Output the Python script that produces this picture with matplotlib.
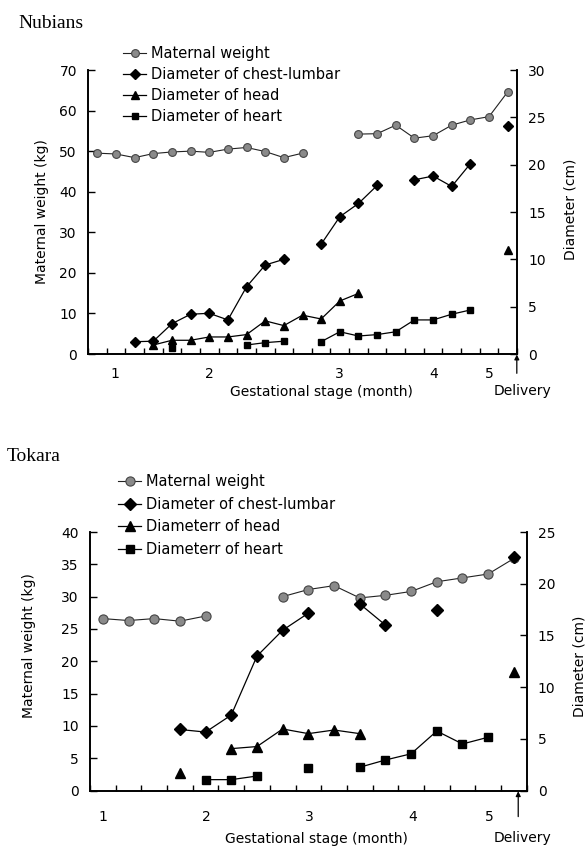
import numpy as np
import matplotlib
matplotlib.use("Agg")
import matplotlib.pyplot as plt

nan = np.nan

# Nubians (23 stage slots, weight in kg, diameters in cm)
nub_weight = [49.5, 49.3, 48.4, 49.4, 49.8, 50.0, 49.7, 50.5, 50.9, 49.9, 48.4, 49.5,
              nan, nan, 54.2, 54.3, 56.4, 53.2, 53.8, 56.4, 57.7, 58.5, 64.6]
nub_chest = [nan, nan, 1.3, 1.35, 3.2, 4.2, 4.3, 3.6, 7.1, 9.4, 10.0, nan,
             11.6, 14.5, 15.9, 17.8, nan, 18.4, 18.8, 17.7, 20.1, nan, 24.1]
nub_head = [nan, nan, nan, 0.95, 1.45, 1.45, 1.8, 1.8, 2.05, 3.5, 3.0, 4.1,
            3.7, 5.6, 6.4, nan, nan, nan, nan, nan, nan, nan, 11.0]
nub_heart = [nan, nan, nan, nan, 0.6, nan, nan, nan, 0.95, 1.2, 1.35, nan,
             1.3, 2.35, 1.9, 2.05, 2.35, 3.6, 3.6, 4.2, 4.65, nan, nan]
nub_month_pos = [0.95, 6.0, 13.0, 18.05, 21.0]

# Tokara (17 stage slots)
tok_weight = [26.6, 26.3, 26.6, 26.2, 27.0, nan, nan, 30.0, 31.1, 31.7, 29.8, 30.2,
              30.8, 32.3, 32.9, 33.5, 35.9]
tok_chest = [nan, nan, nan, 5.9, 5.65, 7.3, 13.0, 15.5, 17.15, nan, 18.05, 16.0,
             nan, 17.5, nan, nan, 22.6]
tok_head = [nan, nan, nan, 1.7, nan, 4.05, 4.25, 5.95, 5.5, 5.85, 5.5, nan,
            nan, nan, nan, nan, 11.5]
tok_heart = [nan, nan, nan, nan, 1.05, 1.05, 1.4, nan, 2.15, nan, 2.25, 2.95,
             3.55, 5.75, 4.5, 5.15, nan]
tok_month_pos = [0.0, 4.04, 8.03, 12.06, 15.03]

month_labels = ["1", "2", "3", "4", "5"]

W, H = 588, 849
fig = plt.figure(figsize=(W / 100, H / 100), dpi=100)
plt.rcParams["font.family"] = "DejaVu Sans"

GRAY = "#8a8a8a"


def px(l, t, r, b):
    return [l / W, 1 - b / H, (r - l) / W, (b - t) / H]


def panel(rect, weight, chest, head, heart, labels_legend, wmax, wstep, dmax, dstep,
          month_pos, deliv_x, deliv_text_x, ms, tick_pad, arrow_y, text_y,
          ylab_l, ylab_r, xlab, legend_xy, legend_space):
    ax = fig.add_axes(rect)
    ax2 = ax.twinx()
    n = len(weight)
    x = np.arange(n)
    h1, = ax.plot(x, weight, "-o", color="#222222", lw=0.8, ms=ms,
                  mfc=GRAY, mec="#444444", mew=0.8)
    h2, = ax2.plot(x, chest, "-D", color="black", lw=0.9, ms=ms * 0.95)
    h3, = ax2.plot(x, head, "-^", color="black", lw=0.9, ms=ms * 1.1)
    h4, = ax2.plot(x, heart, "-s", color="black", lw=0.9, ms=ms * 0.85)
    ax.set_xlim(-0.5, n - 0.5)
    ax.set_ylim(0, wmax)
    ax2.set_ylim(0, dmax)
    ax.set_yticks(np.arange(0, wmax + 1, wstep))
    ax2.set_yticks(np.arange(0, dmax + 1, dstep))
    ax.set_xticks(np.arange(-0.5, n, 1))
    ax.set_xticklabels([])
    ax.set_xticks(month_pos, month_labels, minor=True)
    ax.tick_params(axis="x", which="major", direction="in", length=4, width=1)
    ax.tick_params(axis="x", which="minor", length=0, pad=tick_pad, labelsize=10)
    ax.tick_params(axis="y", direction="in", length=5, width=1, labelsize=10, pad=8)
    ax2.tick_params(axis="y", direction="in", length=5, width=1, labelsize=10, pad=8)
    for a in (ax, ax2):
        a.spines["top"].set_visible(False)
        for s in ("left", "right", "bottom"):
            a.spines[s].set_linewidth(1.2)
    ax.set_ylabel("Maternal weight (kg)", fontsize=10)
    ax2.set_ylabel("Diameter (cm)", fontsize=10)
    ax.yaxis.set_label_coords(*ylab_l)
    ax2.yaxis.set_label_coords(*ylab_r)
    ax.set_xlabel("Gestational stage (month)", fontsize=10)
    ax.xaxis.set_label_coords(*xlab)
    tr = ax.get_xaxis_transform()
    ax.annotate("", xy=(deliv_x, arrow_y[0]), xytext=(deliv_x, arrow_y[1]),
                xycoords=tr, textcoords=tr, annotation_clip=False,
                arrowprops=dict(arrowstyle="-|>", color="black", lw=0.9,
                                mutation_scale=7, shrinkA=0, shrinkB=0))
    ax.text(deliv_text_x, text_y, "Delivery", transform=tr, ha="center",
            va="center", fontsize=10, clip_on=False)
    fig.legend([h1, h2, h3, h4], labels_legend, loc="upper left",
               bbox_to_anchor=(legend_xy[0] / W, 1 - legend_xy[1] / H),
               frameon=False, borderpad=0, borderaxespad=0, handlelength=1.6,
               handletextpad=0.3, labelspacing=legend_space, fontsize=10.5)
    return ax, ax2


panel(px(88, 70, 517, 354), nub_weight, nub_chest, nub_head, nub_heart,
      ["Maternal weight", "Diameter of chest-lumbar", "Diameter of head",
       "Diameter of heart"],
      70, 10, 30, 5, nub_month_pos, 22.49, 22.77, 5.6, 9,
      (-0.002, -0.068), -0.13, (-0.092, 0.5), (1.108, 0.51), (0.543, -0.108),
      (123, 46), 0.42)

panel(px(90, 532, 526.7, 790.5), tok_weight, tok_chest, tok_head, tok_heart,
      ["Maternal weight", "Diameter of chest-lumbar", "Diameterr of head",
       "Diameterr of heart"],
      40, 5, 25, 5, tok_month_pos, 16.17, 16.35, 6.6, 14,
      (-0.003, -0.101), -0.184, (-0.124, 0.56), (1.106, 0.48), (0.518, -0.16),
      (118, 474), 0.53)

fig.text(18 / W, 1 - 28 / H, "Nubians", family="Liberation Serif", fontsize=14)
fig.text(7 / W, 1 - 461 / H, "Tokara", family="Liberation Serif", fontsize=14)

fig.savefig("out.png", dpi=100)
